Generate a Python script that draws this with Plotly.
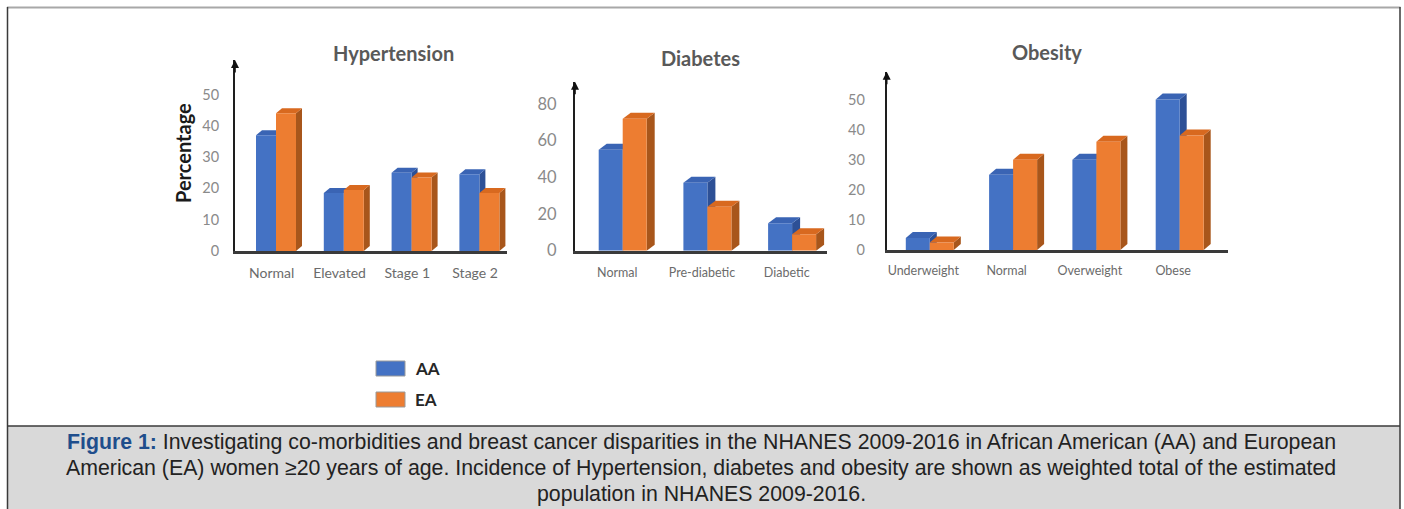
import plotly.graph_objects as go

W, H = 1404, 509

# ---- data -------------------------------------------------------------
series_names = ["AA", "EA"]
front_colors = ["#4472C4", "#ED7D31"]
top_colors = ["#3A64B4", "#D8691F"]
side_colors = ["#2D5096", "#A8561B"]

ht_categories = ["Normal", "Elevated", "Stage 1", "Stage 2"]
ht_aa = [37, 18.5, 25, 24.5]
ht_ea = [44, 19.5, 23.5, 18.5]
ht_ticks = [0, 10, 20, 30, 40, 50]

db_categories = ["Normal", "Pre-diabetic", "Diabetic"]
db_aa = [55, 37, 15]
db_ea = [72, 24, 9]
db_ticks = [0, 20, 40, 60, 80]

ob_categories = ["Underweight", "Normal", "Overweight", "Obese"]
ob_aa = [4, 25, 30, 50]
ob_ea = [2.5, 30, 36, 38]
ob_ticks = [0, 10, 20, 30, 40, 50]

CHART_FONT = "Lato"
CAPTION_FONT = "Liberation Sans"


def px(x):
    return x / W


def py(y):
    return 1 - y / H


# ---- panel layout (pixel geometry of each small chart) -----------------
panels = [
    dict(title="Hypertension", cats=ht_categories, values=[ht_aa, ht_ea], ticks=ht_ticks,
         left=235, right=507, top=60, bottom=251, first=271.7, step=67.8, ppu=3.13,
         barw=20, shift=4.3, depth=(6, 5), title_xy=(393, 53),
         xfont=14, yfont=14.5, xstand=7, ystand=11),
    dict(title="Diabetes", cats=db_categories, values=[db_aa, db_ea], ticks=db_ticks,
         left=575, right=827, top=81.7, bottom=250.7, first=617.3, step=84.7, ppu=1.834,
         barw=24, shift=5.4, depth=(8, 6), title_xy=(700, 58),
         xfont=12.5, yfont=16.5, xstand=9, ystand=13),
    dict(title="Obesity", cats=ob_categories, values=[ob_aa, ob_ea], ticks=ob_ticks,
         left=886.7, right=1228, top=71.7, bottom=250, first=923.3, step=83.3, ppu=3.01,
         barw=24, shift=6.5, depth=(7, 6), title_xy=(1046.7, 51.7),
         xfont=12.5, yfont=14.5, xstand=7, ystand=17),
]

fig = go.Figure()
shapes = []
annotations = []
layout_axes = {}

for k, p in enumerate(panels, start=1):
    xa = "x" if k == 1 else f"x{k}"
    ya = "y" if k == 1 else f"y{k}"
    step = p["step"]
    xr = [(p["left"] - p["first"]) / step, (p["right"] - p["first"]) / step]
    ymax = (p["bottom"] - p["top"]) / p["ppu"]
    bw = p["barw"] / step
    sh = p["shift"] / step
    ddx = p["depth"][0] / step
    ddy = p["depth"][1] / p["ppu"]
    n = len(p["cats"])

    for s, vals in enumerate(p["values"]):
        xs = [i + sh for i in range(n)]
        fig.add_trace(go.Bar(
            x=xs, y=vals, width=[bw] * n, offset=[-bw if s == 0 else 0] * n,
            marker=dict(color=front_colors[s], line=dict(width=0)),
            name=series_names[s], showlegend=False, xaxis=xa, yaxis=ya,
        ))
        # depth faces (top + right side) of each bar
        for i, v in enumerate(vals):
            x0 = i + sh + (-bw if s == 0 else 0)
            x1 = x0 + bw
            side = (f"M {x1},0 L {x1 + ddx},{ddy} L {x1 + ddx},{v + ddy} "
                    f"L {x1},{v} Z")
            top = (f"M {x0},{v} L {x1},{v} L {x1 + ddx},{v + ddy} "
                   f"L {x0 + ddx},{v + ddy} Z")
            shapes.append(dict(type="path", path=side, xref=xa, yref=ya,
                               fillcolor=side_colors[s], line=dict(width=0), layer="below"))
            shapes.append(dict(type="path", path=top, xref=xa, yref=ya,
                               fillcolor=top_colors[s], line=dict(width=0), layer="below"))

    xkey = "xaxis" if k == 1 else f"xaxis{k}"
    ykey = "yaxis" if k == 1 else f"yaxis{k}"
    layout_axes[xkey] = dict(
        domain=[px(p["left"]), px(p["right"])], range=xr, anchor=ya,
        tickvals=list(range(n)), ticktext=p["cats"], ticks="",
        showline=True, linecolor="#3a3a3a", linewidth=2.5,
        showgrid=False, zeroline=False, fixedrange=True, automargin=False,
        tickfont=dict(family=CHART_FONT, size=p["xfont"], color="#6b6b6b"),
        ticklabelstandoff=p["xstand"],
    )
    layout_axes[ykey] = dict(
        domain=[py(p["bottom"]), py(p["top"])], range=[0, ymax], anchor=xa,
        tickvals=p["ticks"], ticks="",
        showline=True, linecolor="#1e1e1e", linewidth=2,
        showgrid=False, zeroline=False, fixedrange=True, automargin=False,
        tickfont=dict(family=CHART_FONT, size=p["yfont"], color="#8a8a8a"),
        ticklabelstandoff=p["ystand"],
    )
    # arrow head at the top of the value axis
    annotations.append(dict(
        x=0, y=1, xref=f"{xa} domain", yref=f"{ya} domain", text="",
        showarrow=True, ax=0, ay=14, axref="pixel", ayref="pixel",
        arrowhead=2, arrowsize=1.0, arrowwidth=1.6, arrowcolor="#111111",
        standoff=0,
    ))
    # panel title
    tx, ty = p["title_xy"]
    annotations.append(dict(
        x=px(tx), y=py(ty), xref="paper", yref="paper", text=f"<b>{p['title']}</b>",
        showarrow=False, xanchor="center", yanchor="middle",
        font=dict(family=CHART_FONT, size=20, color="#595959"),
    ))

# y-axis title of the first panel
annotations.append(dict(
    x=px(183), y=py(153), xref="paper", yref="paper", text="<b>Percentage</b>",
    showarrow=False, textangle=-90, xanchor="center", yanchor="middle",
    font=dict(family=CHART_FONT, size=20, color="#1a1a1a"),
))

# ---- legend ------------------------------------------------------------
legend_rows = [(361, 376, 368.5), (392, 407, 399.5)]
for s, (y0, y1, yc) in enumerate(legend_rows):
    shapes.append(dict(type="rect", xref="paper", yref="paper",
                       x0=px(376), x1=px(405), y0=py(y1), y1=py(y0),
                       fillcolor=front_colors[s], line=dict(color="#9a9a9a", width=1)))
    annotations.append(dict(
        x=px(413), y=py(yc), xref="paper", yref="paper", text=f"<b>{series_names[s]}</b>",
        showarrow=False, xanchor="left", yanchor="middle",
        font=dict(family=CHART_FONT, size=17, color="#262626"),
    ))

# ---- frame and caption box --------------------------------------------
shapes.append(dict(type="rect", xref="paper", yref="paper",
                   x0=px(7.5), x1=px(1400), y0=py(512), y1=py(426),
                   fillcolor="#D9D9D9", line=dict(width=0), layer="below"))
shapes.append(dict(type="line", xref="paper", yref="paper",
                   x0=px(7), x1=px(1400.5), y0=py(7.5), y1=py(7.5),
                   line=dict(color="#A8A8A8", width=2)))
shapes.append(dict(type="line", xref="paper", yref="paper",
                   x0=px(7.5), x1=px(7.5), y0=py(7), y1=py(512),
                   line=dict(color="#3a3a3a", width=1.5)))
shapes.append(dict(type="line", xref="paper", yref="paper",
                   x0=px(1400), x1=px(1400), y0=py(7), y1=py(512),
                   line=dict(color="#3a3a3a", width=1.5)))
shapes.append(dict(type="line", xref="paper", yref="paper",
                   x0=px(7.5), x1=px(1400), y0=py(426), y1=py(426),
                   line=dict(color="#3a3a3a", width=1.5)))

caption_lines = [
    "<span style='color:#1F4E8C'><b>Figure 1:</b></span> Investigating co-morbidities and "
    "breast cancer disparities in the NHANES 2009-2016 in African American (AA) and European",
    "American (EA) women ≥20 years of age. Incidence of Hypertension, diabetes and obesity "
    "are shown as weighted total of the estimated",
    "population in NHANES 2009-2016.",
]
for line, yc in zip(caption_lines, [442, 468, 494]):
    annotations.append(dict(
        x=px(701), y=py(yc), xref="paper", yref="paper", text=line,
        showarrow=False, xanchor="center", yanchor="middle",
        font=dict(family=CAPTION_FONT, size=21.3, color="#222222"),
    ))

fig.update_layout(
    width=W, height=H,
    margin=dict(l=0, r=0, t=0, b=0, pad=0, autoexpand=False),
    paper_bgcolor="white", plot_bgcolor="rgba(0,0,0,0)",
    barmode="overlay", showlegend=False,
    shapes=shapes, annotations=annotations,
    **layout_axes,
)

# keep the page exactly the size of the figure
page_css = (
    "document.documentElement.style.margin='0';"
    "document.body.style.margin='0';"
    "document.documentElement.style.overflow='hidden';"
    "document.body.style.overflow='hidden';"
)
fig.write_html("out.html", post_script=page_css)
